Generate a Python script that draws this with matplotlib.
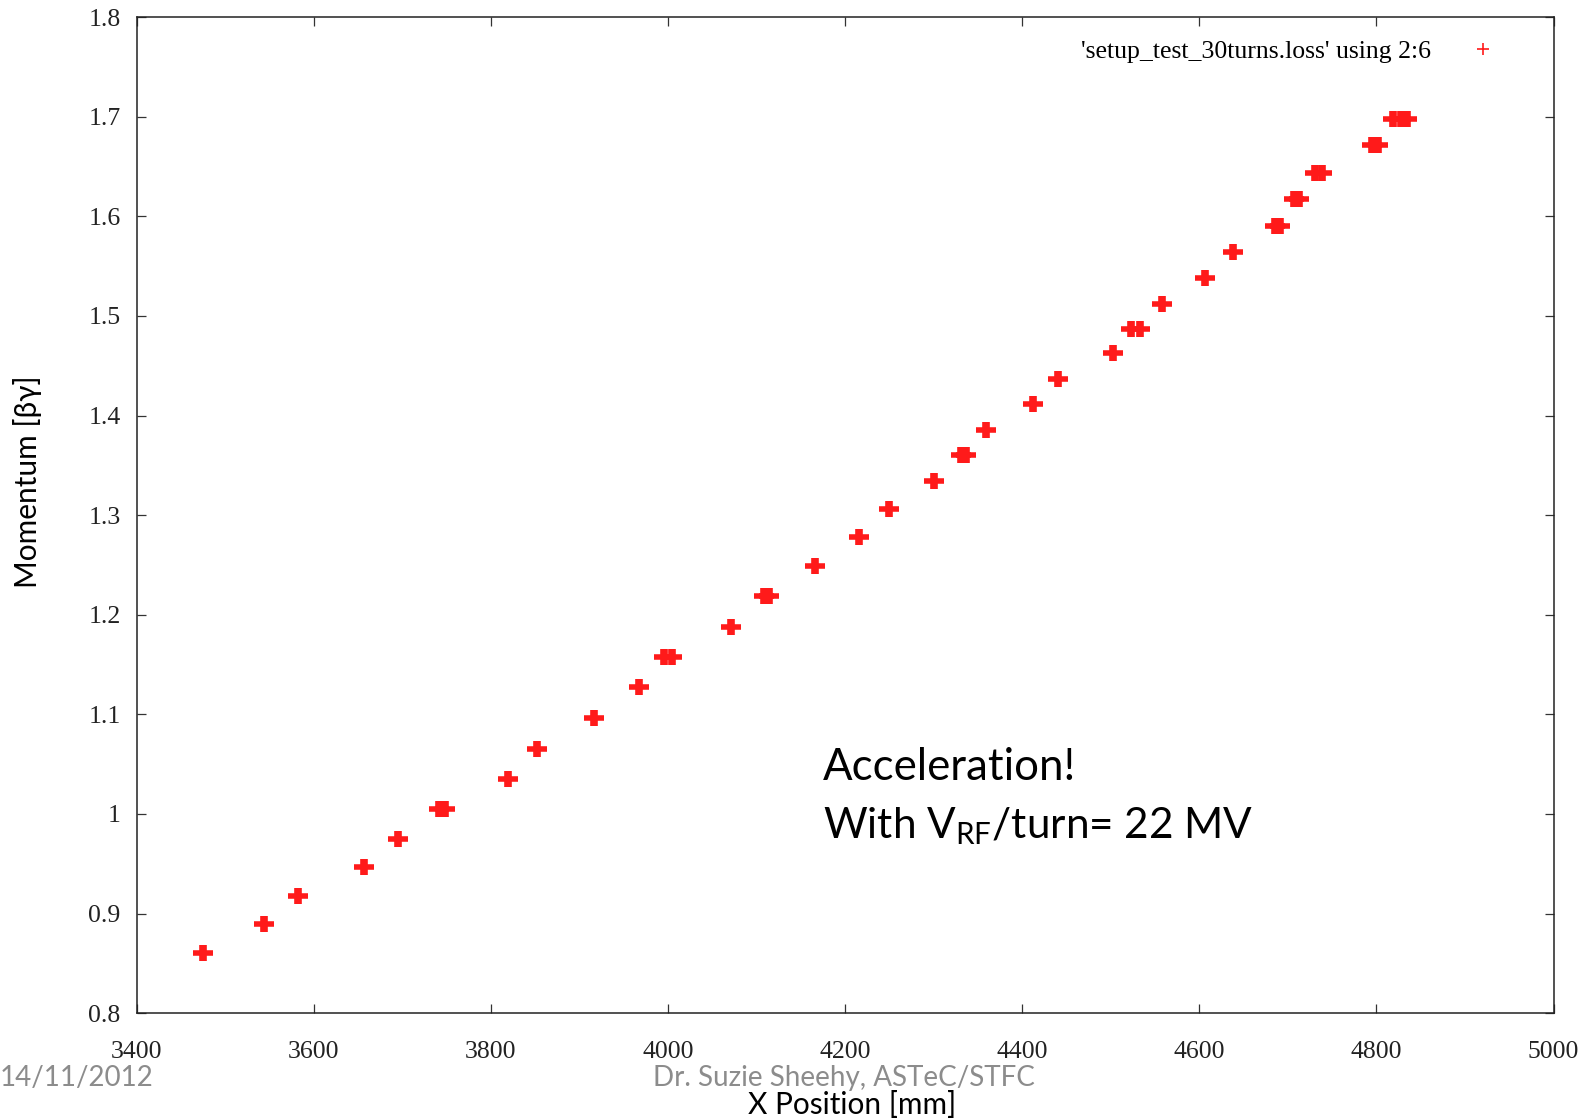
import matplotlib.pyplot as plt
from matplotlib.lines import Line2D

# x position [mm] and momentum [beta*gamma] of the particles at each turn
x_pos = [3475, 3544, 3582, 3657, 3695, 3742, 3748, 3819, 3852, 3917,
         3967, 3996, 4005, 4071, 4108, 4114, 4166, 4216, 4250, 4300,
         4331, 4336, 4359, 4412, 4440, 4502, 4523, 4533, 4558, 4606,
         4638, 4685, 4691, 4707, 4713, 4731, 4738, 4795, 4802, 4819,
         4828, 4834]
momentum = [0.860, 0.889, 0.918, 0.947, 0.975, 1.005, 1.005, 1.035, 1.065, 1.096,
            1.127, 1.158, 1.158, 1.188, 1.219, 1.219, 1.249, 1.278, 1.306, 1.334,
            1.360, 1.360, 1.386, 1.412, 1.437, 1.463, 1.487, 1.487, 1.512, 1.538,
            1.564, 1.590, 1.590, 1.617, 1.617, 1.644, 1.644, 1.672, 1.672, 1.698,
            1.698, 1.698]

x_ticks = [3400, 3600, 3800, 4000, 4200, 4400, 4600, 4800, 5000]
y_ticks = [0.8, 0.9, 1.0, 1.1, 1.2, 1.3, 1.4, 1.5, 1.6, 1.7, 1.8]
y_ticklabels = ['0.8', '0.9', '1', '1.1', '1.2', '1.3', '1.4', '1.5', '1.6', '1.7', '1.8']

legend_label = "'setup_test_30turns.loss' using 2:6"

W, H = 1587, 1119
sans = ['Lato', 'DejaVu Sans']
serif = 'Liberation Serif'
plt.rcParams['mathtext.fontset'] = 'custom'
plt.rcParams['mathtext.rm'] = 'Lato'

fig = plt.figure(figsize=(W / 100, H / 100), dpi=100)
ax = fig.add_axes([136.6 / W, 1 - 1013.1 / H, (1553.6 - 136.6) / W, (1013.1 - 17.2) / H])

# chunky gnuplot-style crosses: a wide bar plus a thick upright
ax.plot(x_pos, momentum, ls='none', marker='_', ms=14, mew=4, color='#ff1a1a')
ax.plot(x_pos, momentum, ls='none', marker='|', ms=11.5, mew=5.5, color='#ff1a1a')

ax.set_xlim(3400, 5000)
ax.set_ylim(0.8, 1.8)
ax.set_xticks(x_ticks)
ax.set_xticklabels([str(t) for t in x_ticks])
ax.set_yticks(y_ticks)
ax.set_yticklabels(y_ticklabels)
ax.tick_params(direction='in', top=True, right=True, length=6.5, width=0.9,
               color='#333333', labelcolor='#222222', labelsize=18.5)
ax.tick_params(axis='x', pad=20)
ax.tick_params(axis='y', pad=11.5)
for lab in ax.get_xticklabels() + ax.get_yticklabels():
    lab.set_family(serif)
for sp in ax.spines.values():
    sp.set_linewidth(1.1)
    sp.set_color('#222222')

handle = Line2D([], [], ls='none', marker='+', ms=9, mew=1.2, color='#ff1a1a')
ax.legend([handle], [legend_label], loc='upper right', frameon=False,
          markerfirst=False, handlelength=2, handletextpad=1.05,
          borderpad=0, borderaxespad=0,
          bbox_to_anchor=(1509 / W, 1 - 40 / H), bbox_transform=fig.transFigure,
          prop={'family': serif, 'size': 18.5})

def fx(px):
    return px / W

def fy(py):
    return 1 - py / H

fig.text(fx(823), fy(768), 'Acceleration!', family=sans, fontsize=31.5,
         ha='left', va='center')
fig.text(fx(823), fy(826), r'With V$_{\mathrm{RF}}$/turn= 22 MV', family=sans,
         fontsize=30.4, ha='left', va='center')
fig.text(fx(28), fy(482), 'Momentum [βγ]', family=sans, fontsize=21.5,
         rotation=90, ha='center', va='center')
fig.text(fx(852), fy(1105), 'X Position [mm]', family=sans, fontsize=21.5,
         ha='center', va='center')
fig.text(fx(0), fy(1078), '14/11/2012', family=sans, fontsize=20,
         color='#8c8c8c', ha='left', va='center')
fig.text(fx(844), fy(1078), 'Dr. Suzie Sheehy, ASTeC/STFC', family=sans,
         fontsize=20, color='#8c8c8c', ha='center', va='center')

fig.savefig('out.png', dpi=100)
